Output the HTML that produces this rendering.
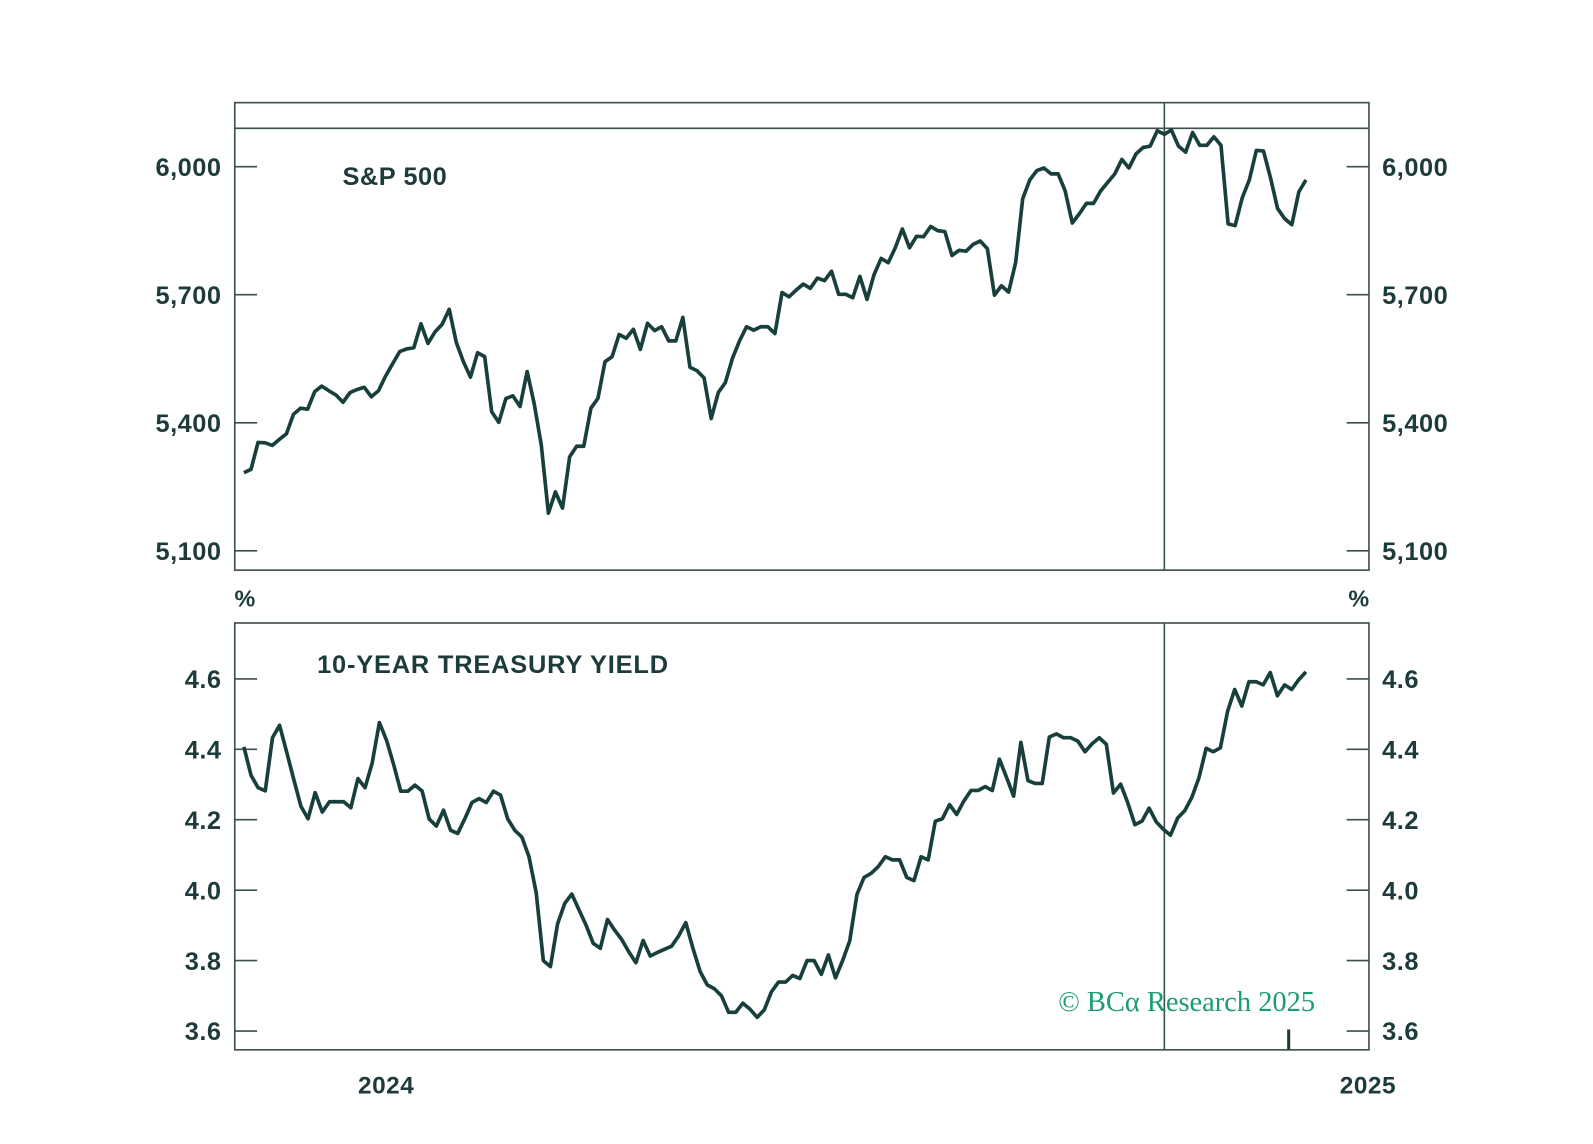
<!DOCTYPE html>
<html><head><meta charset="utf-8"><style>
html,body{margin:0;padding:0;background:#fff;}
svg{display:block;font-family:"Liberation Sans",sans-serif;}
</style></head><body>
<svg id="chart" width="1593" height="1144" viewBox="0 0 1593 1144" xmlns="http://www.w3.org/2000/svg">
<g transform="scale(1.0163)">
<g id="frames"></g>
<g id="axes"></g>
<g id="series"></g>
<text x="337" y="182" font-size="25" font-weight="bold" letter-spacing="0.5" fill="#1d3b3a">S&amp;P 500</text>
<text x="312" y="662" font-size="25" font-weight="bold" letter-spacing="0.8" fill="#1d3b3a">10-YEAR TREASURY YIELD</text>
<text x="241" y="597" font-size="23" font-weight="bold" fill="#1d3b3a" text-anchor="middle">%</text>
<text x="1337" y="597" font-size="23" font-weight="bold" fill="#1d3b3a" text-anchor="middle">%</text>
<text x="380" y="1076" font-size="24" font-weight="bold" letter-spacing="0.5" fill="#1d3b3a" text-anchor="middle">2024</text>
<text x="1346" y="1076" font-size="24" font-weight="bold" letter-spacing="0.5" fill="#1d3b3a" text-anchor="middle">2025</text>
<text x="1294" y="995" font-size="28" fill="#1a9c72" text-anchor="end" font-family="Liberation Serif,serif">© BCα Research 2025</text>
</g>
</svg>
<script>
const spxTicks=[5100,5400,5700,6000];
const spxTickLabels=["5,100","5,400","5,700","6,000"];
const yldTicks=[3.6,3.8,4.0,4.2,4.4,4.6];
const yldTickLabels=["3.6","3.8","4.0","4.2","4.4","4.6"];
const spxValues=[5283,5291,5354,5353,5347,5361,5374,5420,5434,5432,5473,5486,5475,5465,5448,5471,5478,5483,5461,5475,5509,5538,5567,5573,5576,5632,5586,5613,5631,5666,5588,5543,5507,5564,5555,5426,5401,5457,5463,5438,5520,5445,5348,5188,5238,5200,5320,5345,5345,5434,5457,5543,5555,5607,5598,5619,5572,5633,5616,5625,5592,5592,5647,5530,5522,5505,5410,5471,5494,5551,5592,5625,
5617,5625,5625,5609,5705,5695,5711,5725,5715,5739,5733,5755,5701,5701,5693,5743,5689,5747,5785,5775,5810,5854,5810,5837,5836,5860,5850,5848,5792,5804,5802,5818,5826,5808,5699,5721,5706,5776,5925,5969,5991,5997,5983,5983,5943,5868,5890,5914,5914,5943,5963,5983,6017,5997,6030,6045,6048,6084,6076,6086,6048,6034,6080,6050,6050,6070,6050,5866,5862,5927,5969,6038,6037,5973,5902,5878,5864,5941,5969];
const yldValues=[4.407,4.326,4.291,4.282,4.433,4.468,4.392,4.314,4.238,4.203,4.277,4.222,4.251,4.251,4.251,4.234,4.317,4.291,4.361,4.476,4.426,4.357,4.281,4.281,4.298,4.282,4.202,4.182,4.227,4.170,4.161,4.203,4.249,4.260,4.249,4.281,4.270,4.203,4.170,4.151,4.095,3.993,3.800,3.783,3.904,3.962,3.989,3.945,3.901,3.849,3.835,3.917,3.887,3.860,3.825,3.794,3.857,3.813,3.823,3.832,3.841,3.870,3.908,3.835,3.769,3.731,3.720,3.700,3.653,3.653,3.679,3.662,3.639,
3.660,3.711,3.739,3.739,3.758,3.749,3.800,3.800,3.761,3.816,3.751,3.800,3.856,3.988,4.036,4.048,4.067,4.095,4.086,4.086,4.036,4.027,4.095,4.086,4.196,4.203,4.243,4.215,4.253,4.283,4.283,4.294,4.283,4.372,4.320,4.267,4.420,4.311,4.303,4.303,4.435,4.444,4.433,4.433,4.423,4.393,4.416,4.433,4.414,4.276,4.301,4.248,4.186,4.196,4.233,4.194,4.173,4.156,4.205,4.226,4.264,4.320,4.403,4.393,4.404,4.508,4.570,4.523,4.592,4.592,4.583,4.618,4.552,4.583,4.570,4.598,4.620];
const markerValue=6090;
const eventIndex=130;

const NS="http://www.w3.org/2000/svg";
const C="#1d3b3a";
const L=231,R=1347;
const X0=240,X1=1285;
function xScale(i,n){return X0+(X1-X0)*i/(n-1);}
function ySpx(v){return 164+(6000-v)*(126/300);}
function yYld(v){return 668+(4.6-v)*(69.3/0.2);}
function mk(tag,attrs,parent){const e=document.createElementNS(NS,tag);for(const k in attrs)e.setAttribute(k,attrs[k]);parent.appendChild(e);return e;}
const frames=document.getElementById('frames'),axes=document.getElementById('axes'),series=document.getElementById('series');

const f1=mk('rect',{x:L,y:101,width:R-L,height:460,fill:'none',stroke:'#3d4f4e','stroke-width':1.6},frames);


const f2=mk('rect',{x:L,y:613,width:R-L,height:420,fill:'none',stroke:'#3d4f4e','stroke-width':1.6},frames);


const hl=mk('line',{x1:L,x2:R,y1:ySpx(markerValue),y2:ySpx(markerValue),stroke:'#3d4f4e','stroke-width':1.6},frames);


const ex=xScale(eventIndex,spxValues.length);
const v1=mk('line',{x1:ex,x2:ex,y1:101,y2:561,stroke:'#3d4f4e','stroke-width':1.6},frames);


const v2=mk('line',{x1:ex,x2:ex,y1:613,y2:1033,stroke:'#3d4f4e','stroke-width':1.6},frames);


const sm=mk('line',{x1:1268,x2:1268,y1:1013,y2:1033,stroke:C,'stroke-width':3},frames);



function ticks(vals,labels,yf,prefix){
  vals.forEach((v,i)=>{
    const y=yf(v);
    const t1=mk('line',{x1:L,x2:L+22,y1:y,y2:y,stroke:'#3d4f4e','stroke-width':1.6},axes);
    
    
    const t2=mk('line',{x1:R-22,x2:R,y1:y,y2:y,stroke:'#3d4f4e','stroke-width':1.6},axes);
    
    
    const a=mk('text',{x:218,y:y+9,'font-size':25,'font-weight':'bold','letter-spacing':0.5,fill:C,'text-anchor':'end'},axes);
    a.textContent=labels[i];
    
    
    const b=mk('text',{x:1360,y:y+9,'font-size':25,'font-weight':'bold','letter-spacing':0.5,fill:C,'text-anchor':'start'},axes);
    b.textContent=labels[i];
    
    
  });
}
ticks(spxTicks,spxTickLabels,ySpx,'spx');
ticks(yldTicks,yldTickLabels,yYld,'yield');

function line(vals,yf,name){
  const d=vals.map((v,i)=>(i?'L':'M')+xScale(i,vals.length).toFixed(1)+','+yf(v).toFixed(1)).join('');
  const p=mk('path',{d:d,fill:'none',stroke:'#173f3b','stroke-width':3.6,'stroke-linejoin':'round'},series);
  
  
}
line(spxValues,ySpx,'spx-line');
line(yldValues,yYld,'yield-line');
</script>
</body></html>
